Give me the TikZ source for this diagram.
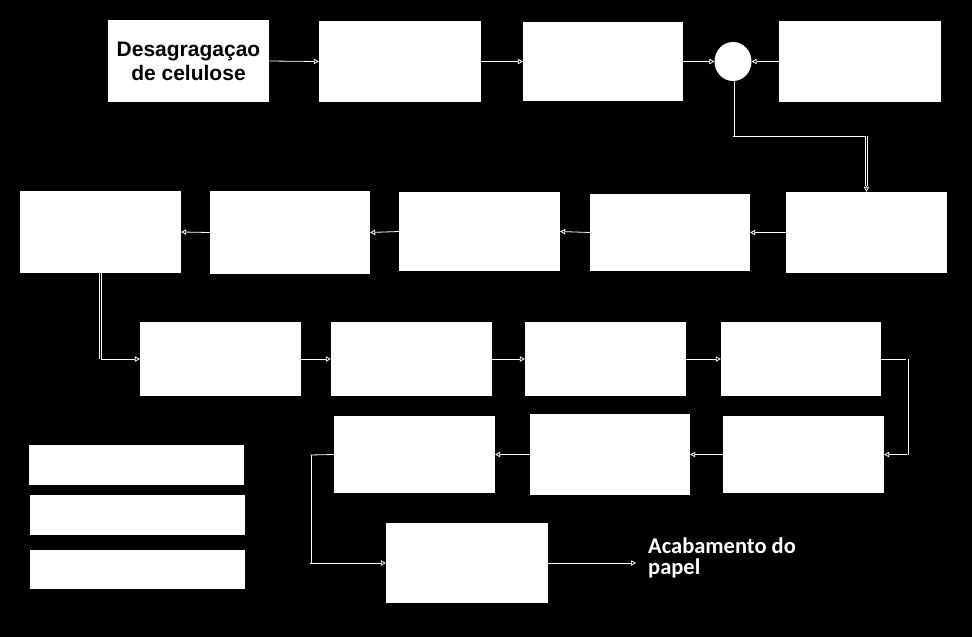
\documentclass[tikz,border=0pt]{standalone}
\usepackage{fontspec}
\setmainfont{Liberation Sans}
\newfontfamily\carl{Carlito}
\usetikzlibrary{arrows.meta,shapes.geometric}
\begin{document}
\begin{tikzpicture}[x=1pt,y=-1pt,
  box/.style={fill=white,draw=none,inner sep=0pt,minimum width=161pt},
  bar/.style={fill=white,draw=none,inner sep=0pt,minimum width=215pt,minimum height=40pt},
  ln/.style={draw=white,line width=0.8pt},
  arr/.style={ln,-{Triangle[open,length=5pt,width=5.5pt]}},
  dbl/.style={draw=white,double=black,double distance=1.6pt,line width=0.7pt}]
\fill[black] (0,0) rectangle (972,637);
\useasboundingbox (0,0) rectangle (972,637);
% row 1
\node[box,minimum width=161pt,minimum height=82pt,align=center,font=\bfseries\fontsize{21}{24}\selectfont] (b1) at (188.5,61) {Desagragaçao\\de celulose};
\node[box,minimum width=162pt,minimum height=81pt] (b2) at (400,61.5) {};
\node[box,minimum width=160pt,minimum height=79pt] (b3) at (603,61.5) {};
\node[ellipse,fill=white,inner sep=0pt,minimum width=37pt,minimum height=39pt] (c) at (733,61.5) {};
\node[box,minimum width=162pt,minimum height=81pt] (b4) at (860,61.5) {};
% row 2
\node[box,minimum height=81pt] (b5) at (866.5,232.5) {};
\node[box,minimum width=160pt,minimum height=77pt] (b6) at (670,232.5) {};
\node[box,minimum height=79pt] (b7) at (479.5,231.5) {};
\node[box,minimum width=160pt,minimum height=83pt] (b8) at (290,232.5) {};
\node[box,minimum height=82pt] (b9) at (100.5,232) {};
% row 3
\node[box,minimum height=74pt] (b10) at (220.5,359) {};
\node[box,minimum height=74pt] (b11) at (411.5,359) {};
\node[box,minimum height=74pt] (b12) at (605.5,359) {};
\node[box,minimum width=160pt,minimum height=74pt] (b13) at (801,359) {};
% row 4
\node[box,minimum height=77pt] (b14) at (803.5,454.5) {};
\node[box,minimum width=160pt,minimum height=81pt] (b15) at (610,454.5) {};
\node[box,minimum height=77pt] (b16) at (414.5,454.5) {};
% row 5
\node[box,minimum width=162pt,minimum height=80pt] (b17) at (467,563) {};
\node[anchor=north west,text=white,align=left,inner sep=0pt,font=\carl\bfseries\fontsize{22.5}{20.5}\selectfont] (t) at (648,538) {Acabamento do\\papel};
% legend bars
\node[bar] (l1) at (136.5,465) {};
\node[bar] (l2) at (137.5,515) {};
\node[bar,minimum height=39pt] (l3) at (137,569.5) {};
% connectors row 1
\draw[arr] (b1.east) -- (b2.west);
\draw[arr] (b2.east) -- (b3.west);
\draw[arr] (b3.east) -- (c.west);
\draw[arr] (b4.west) -- (c.east);
% circle to b5
\coordinate (k1) at (733,136);
\draw[dbl] (c.south) -- (k1);
\draw[ln] (k1) -- (k1 -| b5.north);
\draw[dbl] (k1 -| b5.north) -- ([yshift=6pt]b5.north);
\draw[arr] ([yshift=6.2pt]b5.north) -- (b5.north);
% row 2
\draw[arr] (b5.west) -- (b6.east);
\draw[arr] (b6.west) -- (b7.east);
\draw[arr] (b7.west) -- (b8.east);
\draw[arr] (b8.west) -- (b9.east);
% b9 to b10
\draw[dbl] (b9.south) -- (b9.south |- b10.west);
\draw[arr] (b9.south |- b10.west) -- (b10.west);
% row 3
\draw[arr] (b10.east) -- (b11.west);
\draw[arr] (b11.east) -- (b12.west);
\draw[arr] (b12.east) -- (b13.west);
% b13 to b14
\coordinate (k2) at (907,359);
\draw[ln] (b13.east) -- (k2);
\draw[dbl] (k2) -- (k2 |- b14.east);
\draw[arr] (k2 |- b14.east) -- (b14.east);
% row 4
\draw[arr] (b14.west) -- (b15.east);
\draw[arr] (b15.west) -- (b16.east);
% b16 to b17
\coordinate (k3) at (310,455);
\draw[ln] (b16.west) -- (k3);
\draw[dbl] (k3) -- (k3 |- b17.west);
\draw[arr] (k3 |- b17.west) -- (b17.west);
% b17 out
\coordinate (k4) at (636,563);
\draw[arr] (b17.east) -- (k4);
\end{tikzpicture}
\end{document}
